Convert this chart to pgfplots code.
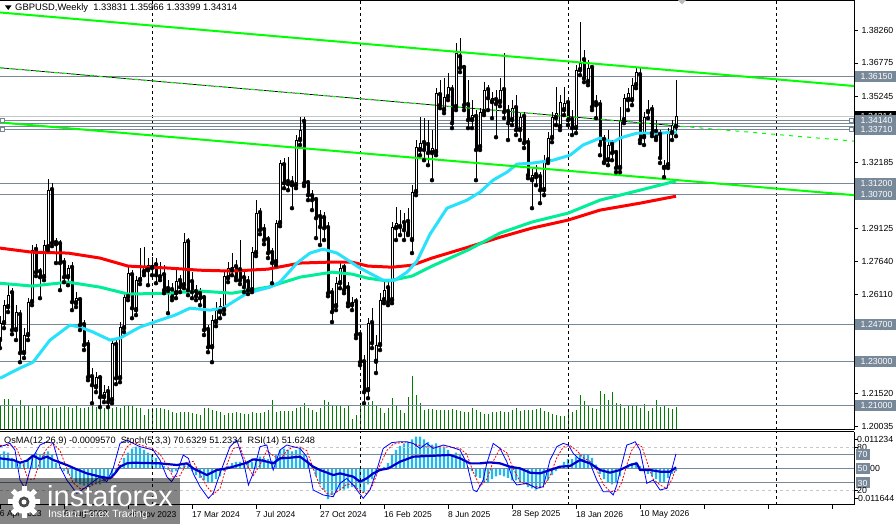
\documentclass[border=0pt]{standalone}
\usepackage{pgfplots}
\pgfplotsset{compat=1.18}
\usepackage{pgfplotstable}
\usepackage{fontspec}
\setmainfont{Liberation Sans}
\definecolor{lvl}{RGB}{119,136,153}
\definecolor{maRed}{RGB}{255,0,0}
\definecolor{maTeal}{RGB}{0,238,150}
\definecolor{maCyan}{RGB}{40,225,250}
\definecolor{tl}{RGB}{0,255,0}
\definecolor{vol}{RGB}{0,128,0}
\definecolor{osma}{RGB}{30,185,240}
\definecolor{rsi}{RGB}{0,0,205}
\newcommand{\lab}{\fontsize{8.8pt}{10pt}\selectfont}
\newcommand{\pbox}[3]{\fill[#3] (855,#1) ++(0,-5.5) rectangle ++(41,11); \node[anchor=west,inner sep=0pt,text=white,font=\lab] at (860.5,#1) {#2};}

\pgfplotstableread{
i o h l c
0 1.2400 1.2510 1.2363 1.2478
1 1.2478 1.2584 1.2455 1.2561
2 1.2552 1.2653 1.2529 1.2607
3 1.2616 1.2639 1.2427 1.2446
4 1.2446 1.2561 1.2400 1.2529
5 1.2515 1.2538 1.2298 1.2340
6 1.2340 1.2455 1.2317 1.2423
7 1.2423 1.2593 1.2400 1.2575
8 1.2575 1.2838 1.2561 1.2815
9 1.2815 1.2842 1.2695 1.2713
10 1.2713 1.2732 1.2593 1.2690
11 1.2690 1.2861 1.2676 1.2838
12 1.2828 1.3142 1.2815 1.3091
13 1.3091 1.3123 1.2833 1.2847
14 1.2847 1.2870 1.2755 1.2842
15 1.2842 1.2861 1.2630 1.2755
16 1.2755 1.2778 1.2667 1.2690
17 1.2690 1.2745 1.2653 1.2732
18 1.2732 1.2759 1.2538 1.2575
19 1.2570 1.2621 1.2552 1.2593
20 1.2584 1.2598 1.2446 1.2469
21 1.2469 1.2492 1.2354 1.2377
22 1.2377 1.2400 1.2215 1.2229
23 1.2229 1.2271 1.2109 1.2192
24 1.2183 1.2252 1.2160 1.2229
25 1.2224 1.2238 1.2091 1.2137
26 1.2137 1.2192 1.2114 1.2160
27 1.2160 1.2188 1.2091 1.2114
28 1.2123 1.2409 1.2109 1.2386
29 1.2377 1.2409 1.2197 1.2224
30 1.2224 1.2483 1.2206 1.2460
31 1.2455 1.2621 1.2437 1.2598
32 1.2598 1.2741 1.2584 1.2708
33 1.2699 1.2722 1.2501 1.2547
34 1.2538 1.2695 1.2515 1.2676
35 1.2676 1.2824 1.2658 1.2690
36 1.2713 1.2828 1.2699 1.2736
37 1.2722 1.2778 1.2653 1.2745
38 1.2732 1.2782 1.2699 1.2745
39 1.2745 1.2778 1.2662 1.2699
40 1.2690 1.2759 1.2676 1.2699
41 1.2699 1.2745 1.2616 1.2630
42 1.2635 1.2676 1.2524 1.2626
43 1.2630 1.2662 1.2584 1.2598
44 1.2616 1.2722 1.2593 1.2672
45 1.2672 1.2699 1.2621 1.2644
46 1.2653 1.2893 1.2639 1.2851
47 1.2851 1.2870 1.2607 1.2630
48 1.2667 1.2713 1.2593 1.2621
49 1.2621 1.2653 1.2584 1.2602
50 1.2612 1.2639 1.2561 1.2593
51 1.2593 1.2607 1.2423 1.2446
52 1.2446 1.2469 1.2344 1.2367
53 1.2367 1.2515 1.2298 1.2492
54 1.2483 1.2575 1.2464 1.2538
55 1.2529 1.2593 1.2501 1.2556
56 1.2538 1.2722 1.2520 1.2695
57 1.2685 1.2759 1.2667 1.2732
58 1.2722 1.2801 1.2699 1.2736
59 1.2736 1.2768 1.2676 1.2690
60 1.2722 1.2861 1.2658 1.2676
61 1.2685 1.2713 1.2621 1.2644
62 1.2667 1.2695 1.2612 1.2630
63 1.2630 1.2828 1.2621 1.2805
64 1.2801 1.3045 1.2787 1.2985
65 1.2985 1.3008 1.2888 1.2907
66 1.2907 1.2934 1.2842 1.2861
67 1.2861 1.2879 1.2778 1.2801
68 1.2801 1.2824 1.2662 1.2755
69 1.2759 1.2953 1.2745 1.2939
70 1.2939 1.3229 1.2925 1.3216
71 1.3206 1.3239 1.3100 1.3123
72 1.3128 1.3243 1.3091 1.3119
73 1.3123 1.3156 1.3008 1.3114
74 1.3114 1.3345 1.3100 1.3322
75 1.3322 1.3428 1.3299 1.3368
76 1.3405 1.3428 1.3110 1.3123
77 1.3123 1.3137 1.3045 1.3068
78 1.3063 1.3091 1.2999 1.3045
79 1.3045 1.3059 1.2870 1.2962
80 1.2967 1.2999 1.2838 1.2921
81 1.2962 1.2990 1.2861 1.2916
82 1.2916 1.2944 1.2602 1.2616
83 1.2616 1.2639 1.2483 1.2529
84 1.2556 1.2690 1.2538 1.2662
85 1.2662 1.2759 1.2639 1.2732
86 1.2732 1.2750 1.2616 1.2630
87 1.2639 1.2667 1.2556 1.2570
88 1.2561 1.2598 1.2538 1.2575
89 1.2575 1.2593 1.2409 1.2423
90 1.2423 1.2446 1.2284 1.2298
91 1.2298 1.2330 1.2109 1.2160
92 1.2169 1.2501 1.2132 1.2478
93 1.2478 1.2547 1.2363 1.2386
94 1.2300 1.2423 1.2248 1.2377
95 1.2377 1.2616 1.2354 1.2584
96 1.2584 1.2667 1.2570 1.2630
97 1.2639 1.2667 1.2561 1.2575
98 1.2584 1.2944 1.2570 1.2921
99 1.2916 1.3013 1.2861 1.2939
100 1.2921 1.2999 1.2884 1.2930
101 1.2939 1.2985 1.2861 1.2907
102 1.2944 1.3008 1.2884 1.2893
103 1.2861 1.3114 1.2801 1.3082
104 1.3082 1.3322 1.3068 1.3289
105 1.3276 1.3428 1.3252 1.3308
106 1.3308 1.3423 1.3229 1.3276
107 1.3299 1.3414 1.3206 1.3262
108 1.3262 1.3368 1.3137 1.3285
109 1.3266 1.3561 1.3252 1.3538
110 1.3529 1.3598 1.3469 1.3483
111 1.3460 1.3607 1.3446 1.3520
112 1.3520 1.3631 1.3506 1.3566
113 1.3552 1.3575 1.3377 1.3400
114 1.3474 1.3769 1.3460 1.3723
115 1.3704 1.3792 1.3635 1.3654
116 1.3654 1.3667 1.3460 1.3483
117 1.3483 1.3598 1.3377 1.3414
118 1.3414 1.3506 1.3377 1.3437
119 1.3428 1.3460 1.3137 1.3276
120 1.3289 1.3469 1.3276 1.3451
121 1.3451 1.3589 1.3437 1.3552
122 1.3552 1.3575 1.3460 1.3515
123 1.3497 1.3543 1.3423 1.3515
124 1.3506 1.3552 1.3335 1.3488
125 1.3497 1.3607 1.3478 1.3552
126 1.3552 1.3723 1.3423 1.3451
127 1.3451 1.3483 1.3322 1.3400
128 1.3414 1.3506 1.3391 1.3469
129 1.3469 1.3529 1.3345 1.3368
130 1.3368 1.3451 1.3322 1.3428
131 1.3428 1.3451 1.3285 1.3308
132 1.3308 1.3331 1.3146 1.3160
133 1.3137 1.3193 1.3008 1.3160
134 1.3160 1.3206 1.3114 1.3151
135 1.3151 1.3174 1.3031 1.3091
136 1.3091 1.3252 1.3068 1.3229
137 1.3229 1.3359 1.3216 1.3331
138 1.3331 1.3451 1.3312 1.3428
139 1.3423 1.3566 1.3391 1.3446
140 1.3382 1.3529 1.3368 1.3497
141 1.3460 1.3566 1.3437 1.3492
142 1.3492 1.3520 1.3391 1.3414
143 1.3414 1.3460 1.3345 1.3377
144 1.3377 1.3667 1.3354 1.3644
145 1.3644 1.3866 1.3621 1.3677
146 1.3690 1.3737 1.3589 1.3607
147 1.3589 1.3690 1.3575 1.3654
148 1.3654 1.3667 1.3460 1.3474
149 1.3492 1.3529 1.3423 1.3483
150 1.3483 1.3506 1.3252 1.3299
151 1.3322 1.3345 1.3216 1.3220
152 1.3229 1.3368 1.3206 1.3299
153 1.3299 1.3322 1.3229 1.3262
154 1.3262 1.3276 1.3174 1.3193
155 1.3193 1.3474 1.3174 1.3414
156 1.3414 1.3534 1.3400 1.3515
157 1.3506 1.3561 1.3460 1.3538
158 1.3506 1.3607 1.3483 1.3575
159 1.3575 1.3654 1.3561 1.3635
160 1.3621 1.3654 1.3308 1.3322
161 1.3335 1.3451 1.3299 1.3428
162 1.3451 1.3506 1.3423 1.3460
163 1.3460 1.3483 1.3340 1.3354
164 1.3359 1.3414 1.3322 1.3335
165 1.3345 1.3368 1.3216 1.3239
166 1.3193 1.3229 1.3151 1.3206
167 1.3206 1.3377 1.3193 1.3354
168 1.3354 1.3414 1.3322 1.3391
169 1.33831 1.35966 1.33399 1.34314
}\candles

\begin{document}
\begin{tikzpicture}[x=1pt,y=1pt]
\useasboundingbox (0,0) rectangle (896,524);
\fill[white] (0,0) rectangle (896,524);

% ---------- volume ----------
\begin{axis}[at={(0pt,94pt)}, anchor=south west, width=854pt, height=430pt, scale only axis,
  xmin=0, xmax=213.5, ymin=0, ymax=430, hide axis]
\addplot[ycomb, vol, line width=1pt, mark=none] coordinates {
(0,24) (1,31) (2,31) (3,24) (4,22) (5,30) (6,24) (7,24) (8,22) (9,24) (10,24) (11,22) (12,24) (13,22) (14,22) (15,23) (16,24) (17,23) (18,22) (19,24)
(20,22) (21,22) (22,23) (23,24) (24,23) (25,23) (26,22) (27,23) (28,22) (29,23) (30,22) (31,24) (32,24) (33,24) (34,22) (35,22) (36,15) (37,21) (38,22) (39,22)
(40,22) (41,21) (42,20) (43,18) (44,17) (45,18) (46,18) (47,18) (48,17) (49,16) (50,15) (51,22) (52,22) (53,20) (54,19) (55,18) (56,15) (57,17) (58,17) (59,18)
(60,17) (61,16) (62,16) (63,18) (64,17) (65,17) (66,18) (67,20) (68,30) (69,18) (70,19) (71,19) (72,19) (73,19) (74,22) (75,23) (76,27) (77,22) (78,20) (79,18)
(80,22) (81,30) (82,28) (83,24) (84,24) (85,24) (86,22) (87,24) (88,11) (89,15) (90,24) (91,24) (92,28) (93,29) (94,24) (95,22) (96,17) (97,22) (98,32) (99,24)
(100,20) (101,17) (102,33) (103,54) (104,35) (105,27) (106,20) (107,21) (108,21) (109,20) (110,20) (111,20) (112,20) (113,21) (114,20) (115,19) (116,18) (117,18) (118,22) (119,20)
(120,18) (121,16) (122,16) (123,18) (124,18) (125,19) (126,18) (127,18) (128,20) (129,22) (130,19) (131,20) (132,20) (133,20) (134,21) (135,22) (136,19) (137,18) (138,16) (139,15)
(140,14) (141,14) (142,20) (143,18) (144,20) (145,35) (146,29) (147,24) (148,22) (149,21) (150,39) (151,36) (152,30) (153,38) (154,27) (155,26) (156,22) (157,24) (158,24) (159,24)
(160,22) (161,26) (162,19) (163,22) (164,30) (165,23) (166,24) (167,22) (168,21) (169,23)};
\end{axis}

% ---------- main price panel ----------
\begin{axis}[at={(0pt,94pt)}, anchor=south west, width=854pt, height=430pt, scale only axis,
  xmin=0, xmax=213.5, ymin=1.19855, ymax=1.39675,
  axis x line=none, axis y line*=right, axis line style={-, black, line width=1pt},
  xtick=\empty,
  ytick={1.38260,1.36775,1.35245,1.32185,1.29125,1.27640,1.26110,1.24580,1.21520,1.20035},
  yticklabels={1.38260,1.36775,1.35245,1.32185,1.29125,1.27640,1.26110,1.24580,1.21520,1.20035},
  yticklabel style={font=\lab, text=black},
  tick align=outside, major tick length=4pt, ytick style={black, line width=0.8pt}]
% separators
\addplot[black, dash pattern=on 3pt off 3pt, line width=0.8pt] coordinates {(38,1.19855) (38,1.39675)};
\addplot[black, dash pattern=on 3pt off 3pt, line width=0.8pt] coordinates {(90,1.19855) (90,1.39675)};
\addplot[black, dash pattern=on 3pt off 3pt, line width=0.8pt] coordinates {(142,1.19855) (142,1.39675)};
\addplot[black, dash pattern=on 3pt off 3pt, line width=0.8pt] coordinates {(194,1.19855) (194,1.39675)};
% horizontal levels
\addplot[lvl, line width=1pt] coordinates {(0,1.36150) (213.5,1.36150)};
\addplot[gray!45, line width=1pt] coordinates {(0,1.34314) (213.5,1.34314)};
\addplot[lvl, line width=1pt] coordinates {(0,1.34140) (213.5,1.34140)};
\addplot[lvl, line width=1pt] coordinates {(0,1.33990) (213.5,1.33990)};
\addplot[lvl, line width=1pt] coordinates {(0,1.33830) (213.5,1.33830)};
\addplot[lvl, line width=1pt] coordinates {(0,1.33710) (213.5,1.33710)};
\addplot[lvl, line width=1pt] coordinates {(0,1.31200) (213.5,1.31200)};
\addplot[lvl, line width=1pt] coordinates {(0,1.30700) (213.5,1.30700)};
\addplot[lvl, line width=1pt] coordinates {(0,1.24700) (213.5,1.24700)};
\addplot[lvl, line width=1pt] coordinates {(0,1.23000) (213.5,1.23000)};
\addplot[lvl, line width=1pt] coordinates {(0,1.21000) (213.5,1.21000)};
% candles: wicks
\addplot[only marks, mark=none, error bars/.cd, y dir=plus, y explicit, error mark=none,
  error bar style={draw=black, line width=1pt}]
  table[x=i, y=l, y error plus expr=\thisrow{h}-\thisrow{l}] {\candles};
% bodies
\addplot[only marks, mark=none, error bars/.cd, y dir=plus, y explicit, error mark=none,
  error bar style={draw=black, line width=3pt}]
  table[x=i, y expr={min(\thisrow{o},\thisrow{c})}, y error plus expr={max(abs(\thisrow{c}-\thisrow{o}),0.00046)}] {\candles};
% hollow part of rising candles
\addplot[only marks, mark=none, error bars/.cd, y dir=plus, y explicit, error mark=none,
  error bar style={draw=white, line width=1pt}]
  table[x=i, y expr={\thisrow{o}+0.00046}, y error plus expr={max(\thisrow{c}-\thisrow{o}-0.00092,0)}] {\candles};
% moving averages
\addplot[maRed, line width=3pt, line join=round] coordinates {
(0,1.2824) (8,1.2805) (17,1.2801) (25,1.2778) (32,1.2741) (42,1.2732) (50,1.2722) (58,1.2718) (67,1.2727) (75,1.2755) (82,1.2759) (88,1.2759) (92,1.2741) (98,1.2736) (103,1.2745) (108,1.2778) (117,1.2828) (125,1.2874) (133,1.2916) (142,1.2953) (150,1.2999) (160,1.3031) (169,1.3063)};
\addplot[maTeal, line width=3pt, line join=round] coordinates {
(0,1.2662) (8,1.2649) (17,1.2667) (25,1.2644) (32,1.2612) (42,1.2616) (50,1.2626) (58,1.2616) (67,1.2644) (75,1.2690) (83,1.2713) (88,1.2704) (92,1.2685) (97,1.2672) (103,1.2695) (108,1.2741) (117,1.2815) (125,1.2893) (133,1.2944) (142,1.2985) (150,1.3045) (160,1.3091) (169,1.3133)};
\addplot[maCyan, line width=3pt, line join=round] coordinates {
(0,1.2224) (5,1.2271) (8.25,1.2298) (12.5,1.2400) (17.5,1.2469) (20,1.2460) (23.25,1.2437) (27.5,1.2400) (30,1.2409) (35,1.2460) (40,1.2492) (43.75,1.2515) (47.5,1.2547) (52.5,1.2538) (55.75,1.2547) (61.75,1.2616) (67.5,1.2644) (70,1.2667) (74.25,1.2755) (77.5,1.2801) (80.75,1.2819) (84.25,1.2801) (90,1.2732) (95.75,1.2676) (98.75,1.2676) (101.75,1.2713) (104.25,1.2764) (107.5,1.2888) (111.75,1.3008) (116.75,1.3045) (120,1.3082) (123.25,1.3137) (126.75,1.3174) (129.25,1.3211) (133.25,1.3216) (138.25,1.3229) (142.5,1.3252) (145.75,1.3299) (150,1.3331) (153.25,1.3312) (155,1.3331) (159.25,1.3354) (165,1.3354) (169.25,1.3359)};
% trend lines
\addplot[tl, line width=2pt] coordinates {(0,1.3910) (213.5,1.3571)};
\addplot[tl, line width=2pt] coordinates {(0,1.3403) (213.5,1.3068)};
\addplot[black, line width=0.7pt] coordinates {(0,1.3655) (170,1.3386)};
\addplot[tl, line width=1pt, dash pattern=on 4pt off 5pt] coordinates {(0,1.3655) (213.5,1.3317)};
\end{axis}

% ---------- OsMA ----------
\begin{axis}[at={(0pt,19pt)}, anchor=south west, width=854pt, height=73pt, scale only axis,
  xmin=0, xmax=213.5, ymin=-13.76, ymax=13.76, hide axis]
\addplot[ybar, bar width=2.4pt, fill=osma, draw=none] coordinates {
(0,5.5) (1,6.5) (2,6) (3,4) (4,3) (5,2) (6,2) (7,3) (8,5) (9,6) (10,5.5) (11,6) (12,6.5) (13,5) (14,2) (15,0.5) (16,-1) (17,-2) (18,-3.5) (19,-5)
(20,-6) (21,-6.5) (22,-7) (23,-6.5) (24,-6) (25,-6) (26,-5) (27,-4) (28,-2.5) (29,-1.5) (30,1.5) (31,4) (32,6) (33,7.5) (34,8.2) (35,8) (36,7) (37,6) (38,5) (39,4)
(40,2.5) (41,1) (42,-0.5) (43,-1.5) (44,-1) (45,0.5) (46,1.5) (47,1) (48,-1) (49,-2.5) (50,-3.5) (51,-4.5) (52,-5.5) (53,-5) (54,-4) (55,-3) (56,-1) (57,1) (58,2) (59,2.5)
(60,2.5) (61,2) (62,2) (63,2.5) (64,4) (65,4.5) (66,4) (67,3.5) (68,3) (69,5) (70,7) (71,7.5) (72,7) (73,6.5) (74,7) (75,7.5) (76,5.5) (77,3) (78,0.5) (79,-3)
(80,-6) (81,-8) (82,-11.5) (83,-10) (84,-9) (85,-8) (86,-8) (87,-7.5) (88,-7) (89,-7.5) (90,-8) (91,-9) (92,-6) (93,-4) (94,-2.5) (95,-1) (96,0.5) (97,2) (98,5) (99,7)
(100,8.5) (101,9.5) (102,10) (103,11) (104,12) (105,12) (106,11) (107,10) (108,9) (109,9.5) (110,8.5) (111,8) (112,7) (113,5) (114,6) (115,5.5) (116,3) (117,0.5) (118,-1) (119,-3)
(120,-3.5) (121,-5.5) (122,-5.5) (123,-4) (124,-3) (125,-2.5) (126,-3) (127,-3.5) (128,-4.5) (129,-4.5) (130,-5) (131,-6) (132,-7) (133,-7.5) (134,-8) (135,-7.5) (136,-6) (137,-4.5) (138,-2.5) (139,-1)
(140,1) (141,2.5) (142,3.5) (143,3.5) (144,4.5) (145,5.5) (146,5.5) (147,5) (148,4) (149,1.5) (150,-2) (151,-4) (152,-5) (153,-6) (154,-5.5) (155,-3) (156,0) (157,1.5) (158,2) (159,2.5)
(160,1) (161,-1) (162,-2) (163,-3) (164,-4) (165,-5) (166,-5.5) (167,-3.5) (168,-2) (169,-1)};
\end{axis}

% ---------- Stochastic / RSI ----------
\begin{axis}[at={(0pt,19pt)}, anchor=south west, width=854pt, height=73pt, scale only axis,
  xmin=0, xmax=213.5, ymin=-0.98, ymax=101, hide axis]
\addplot[gray!45, line width=0.8pt, dash pattern=on 3pt off 3pt] coordinates {(0,80) (213.5,80)};
\addplot[gray!45, line width=0.8pt, dash pattern=on 3pt off 3pt] coordinates {(0,20) (213.5,20)};
\addplot[lvl, line width=1pt] coordinates {(0,70) (213.5,70)};
\addplot[lvl, line width=1pt] coordinates {(0,50) (213.5,50)};
\addplot[lvl, line width=1pt] coordinates {(0,30) (213.5,30)};
\addplot[black, dash pattern=on 3pt off 3pt, line width=0.8pt] coordinates {(38,-0.98) (38,101)};
\addplot[black, dash pattern=on 3pt off 3pt, line width=0.8pt] coordinates {(90,-0.98) (90,101)};
\addplot[black, dash pattern=on 3pt off 3pt, line width=0.8pt] coordinates {(142,-0.98) (142,101)};
\addplot[black, dash pattern=on 3pt off 3pt, line width=0.8pt] coordinates {(194,-0.98) (194,101)};
% stochastic signal
\addplot[red, line width=0.8pt, dash pattern=on 2pt off 1.5pt] coordinates {
(0,82) (2.5,82) (4,80) (5.5,60) (7,35) (8.5,35) (10,60) (11.7,78) (13.3,85) (15,75) (16.7,50) (18.3,30) (20,22) (21.7,22) (23.3,28) (25,32) (26.7,35) (28.3,38) (30,60) (31.7,80) (33.3,87) (35,83) (36.7,80) (38.3,77) (40,70) (41.7,55) (43.3,38) (45,40) (46.7,58) (48.3,60) (50,42) (51.7,25) (53.3,14) (55,22) (56.7,55) (58.3,78) (60,80) (61.7,55) (63.3,40) (65,55) (66.7,75) (68.3,68) (70,62) (71.7,75) (73.3,80) (75,80) (76.7,75) (78.3,50) (80,25) (81.7,15) (83.3,14) (85,20) (86.7,28) (88.3,28) (90,18) (91.7,15) (93.3,28) (95,55) (96.7,75) (98.3,84) (100,86) (101.7,87) (103.3,85) (105,82) (106.7,80) (108.3,80) (110,80) (112.5,80) (115,78) (116.7,70) (118.3,45) (120,25) (121.7,35) (123.3,60) (125,78) (126.7,72) (128.3,50) (130,32) (131.7,28) (133.3,25) (135.8,24) (137.5,40) (139.2,65) (140.8,80) (142.5,82) (144.2,75) (145.8,65) (147.5,60) (149.2,48) (150.8,28) (152.5,18) (154.2,18) (155.4,30) (156.7,55) (157.9,75) (159.2,85) (160.5,80) (162,55) (163.3,35) (165,27) (166.7,22) (168,35) (169,51.2)};
% stochastic main
\addplot[blue, line width=0.8pt] coordinates {
(0,80.5) (2.5,85.1) (3.75,75.8) (5,33.9) (6.25,22.3) (7.5,47.9) (8.3,66.5) (10,82.8) (11.7,87.4) (13.3,85.1) (15,52.5) (16.7,33.9) (19.2,15.3) (21.7,24.6) (23.3,31.6) (25,38.6) (26.7,31.6) (28.3,50.2) (30,85.1) (31.7,89.8) (33.3,85.1) (35,80.5) (36.7,78.1) (38.3,75.8) (40,61.8) (41.7,38.6) (42.9,31.6) (44.2,43.2) (45.8,68.8) (47.1,64.2) (48.3,43.2) (50,24.6) (52.1,8.3) (53.3,15.3) (55,43.2) (57.5,80.5) (59.2,89.8) (60.8,61.8) (62.1,26.9) (63.3,43.2) (65,80.5) (66.7,82.8) (68.3,47.9) (70,75.8) (71.7,82.8) (73.3,80.5) (75,78.1) (76.7,66.5) (78.3,20) (80.8,13) (83.3,10.6) (85,29.3) (86.7,36.2) (88.3,27) (90.8,8.3) (92.5,20) (94.2,47.9) (95.8,78.1) (97.9,86.1) (100,87.4) (101.7,87.4) (103.3,85.1) (105,78.1) (106.7,85.1) (108.3,78.1) (110.8,82.8) (112.5,80.5) (115,75.8) (116.7,57.2) (118.3,20) (119.2,17.6) (120.8,33.9) (121.7,57.2) (123.3,85.1) (125,78.1) (126.7,59.5) (128.3,33.9) (129.2,27) (131.7,29.3) (134.2,22.3) (135.8,24.6) (137.5,61.8) (139.2,80.5) (140.8,85.1) (142.1,82.8) (143.3,71.2) (144.6,64.2) (145.8,61.8) (147.5,57.2) (149.2,33.9) (150.8,17.6) (152.5,17.6) (153.3,13) (154.2,26.9) (155.4,54.9) (156.7,82.8) (157.9,85.1) (158.8,87.4) (160,75.8) (161.7,29.3) (163.3,33.9) (165,20) (166.7,22.3) (167.9,47.9) (169,70.6)};
% RSI
\addplot[rsi, line width=2.2pt, line join=round] coordinates {
(0,64.2) (3.3,61.9) (5,58.1) (6.7,60.9) (8.3,67.9) (10,62.8) (11.7,66.5) (13.3,61.9) (16.7,54.9) (19.2,48.8) (21.7,43.2) (25,38.6) (27.5,36.3) (28.75,43.2) (30,52.5) (31.7,57.2) (33.3,58.1) (40,57.2) (44.2,54.9) (46.7,57.2) (48.3,50.2) (50,45.6) (51.7,40.9) (54.2,47.9) (56.7,50.2) (58.3,52.5) (61.7,58.1) (63.3,62.8) (65.8,60.9) (68.3,57.2) (70,64.2) (72.5,65.1) (75,66.5) (76.7,59.5) (78.3,52.5) (80,47.9) (83.3,40.9) (85,43.2) (88.3,38.6) (90,31.6) (91.7,36.3) (93.3,43.2) (95,47.9) (97.1,50.2) (100,59.5) (103.3,66.5) (106.7,67.4) (112.5,68.9) (115,64.2) (117.5,57.2) (120,57.2) (122.5,58.6) (125,57.2) (127.5,52.5) (130,50.2) (132.5,44.2) (135,43.2) (137.5,47.9) (140,52.5) (142.5,53.5) (145,61.9) (147.5,57.2) (150,47.9) (152.5,44.2) (155,47.9) (157.5,54.9) (159.2,57.2) (160,47.9) (162.5,47.9) (165,45.6) (167.5,45.6) (169,51.6)};
\end{axis}

% ---------- frames ----------
\draw[black, line width=1pt] (0,523.5) -- (854,523.5);
\draw[black, line width=1pt] (0,94) -- (854,94);
\draw[black, line width=1pt] (0,92) -- (854,92);
\draw[black, line width=1pt] (0,19) -- (854,19);
\draw[black, line width=1pt] (854,19) -- (854,92);
\foreach \t in {85,77,34,26} {\draw[black, line width=0.8pt] (854,\t) -- (858,\t);}
\foreach \t in {0,64,128,192,256,320,384,448,512,576,640,704,768,832} {\draw[black, line width=0.8pt] (\t,19) -- (\t,15);}

% ---------- right price boxes ----------
\pbox{447.5}{1.36150}{lvl}
\pbox{407.7}{1.34314}{black}
\pbox{403.9}{1.34140}{lvl}
\pbox{394.6}{1.33710}{lvl}
\pbox{340.1}{1.31200}{lvl}
\pbox{329.3}{1.30700}{lvl}
\pbox{199.1}{1.24700}{lvl}
\pbox{162.2}{1.23000}{lvl}
\pbox{118.8}{1.21000}{lvl}
\foreach \yy in {403.9,394.6} {
  \filldraw[fill=white, draw=lvl, line width=0.8pt] (849.5,\yy) ++(0,-2) rectangle ++(4,4);
  \filldraw[fill=white, draw=lvl, line width=0.8pt] (0.5,\yy) ++(0,-2) rectangle ++(4,4);}

% ---------- sub-panel scale ----------
\node[anchor=west, inner sep=0pt, font=\lab] at (857,85) {0.011234};
\node[anchor=west, inner sep=0pt, font=\lab] at (857,77) {80};
\fill[lvl] (856,64) rectangle (870,75);
\node[anchor=west, inner sep=0pt, font=\lab, text=white] at (857.5,69.5) {70};
\fill[lvl] (856,50) rectangle (870,61);
\node[anchor=west, inner sep=0pt, font=\lab, text=white] at (857.5,55.5) {50};
\node[anchor=west, inner sep=0pt, font=\lab] at (870,55.5) {00};
\fill[lvl] (856,35.5) rectangle (870,46.5);
\node[anchor=west, inner sep=0pt, font=\lab, text=white] at (857.5,41) {30};
\node[anchor=west, inner sep=0pt, font=\lab] at (857,34) {20};
\node[anchor=west, inner sep=0pt, font=\lab] at (855,26) {-0.011644};

% ---------- texts ----------
\fill[black] (5,518.5) -- (11.5,518.5) -- (8.25,514) -- cycle;
\node[anchor=west, inner sep=0pt, font=\fontsize{9.4pt}{11pt}\selectfont] at (15,515.7) {GBPUSD,Weekly\ \ 1.33831 1.35966 1.33399 1.34314};
\node[anchor=west, inner sep=0pt, font=\fontsize{9.2pt}{11pt}\selectfont] at (4,83) {OsMA(12,26,9) -0.0009570\ \ Stoch(5,3,3) 70.6329 51.2334\ \ RSI(14) 51.6248};
\fill[gray!55] (678,524) -- (686,524) -- (682,519.5) -- cycle;
\foreach \x/\d in {-5/16 Apr 2023,64/6 Aug 2023,128/26 Nov 2023,192/17 Mar 2024,256/7 Jul 2024,320/27 Oct 2024,384/16 Feb 2025,448/8 Jun 2025,512/28 Sep 2025,576/18 Jan 2026,640/10 May 2026}
  {\node[anchor=west, inner sep=0pt, font=\fontsize{8.5pt}{10pt}\selectfont] at (\x,9.5) {\d};}

% ---------- watermark ----------
\fill[black, opacity=0.48] (0,0) rectangle (180,46);
\foreach \a in {0,45,...,315} {\fill[white, rotate around={\a:(24,22)}] (21.5,31) rectangle (26.5,38);}
\fill[white] (24,22) circle (12);
\fill[gray!60!black] (24,22) circle (5.5);
\fill[white] (24,22) circle (2.5);
\node[anchor=base west, inner sep=0pt, text=white, font=\fontsize{29pt}{30pt}\selectfont] at (47,17) {instaforex};
\node[anchor=base west, inner sep=0pt, text=white, font=\fontsize{10.5pt}{12pt}\selectfont] at (48,6) {Instant Forex Trading};
\end{tikzpicture}
\end{document}
